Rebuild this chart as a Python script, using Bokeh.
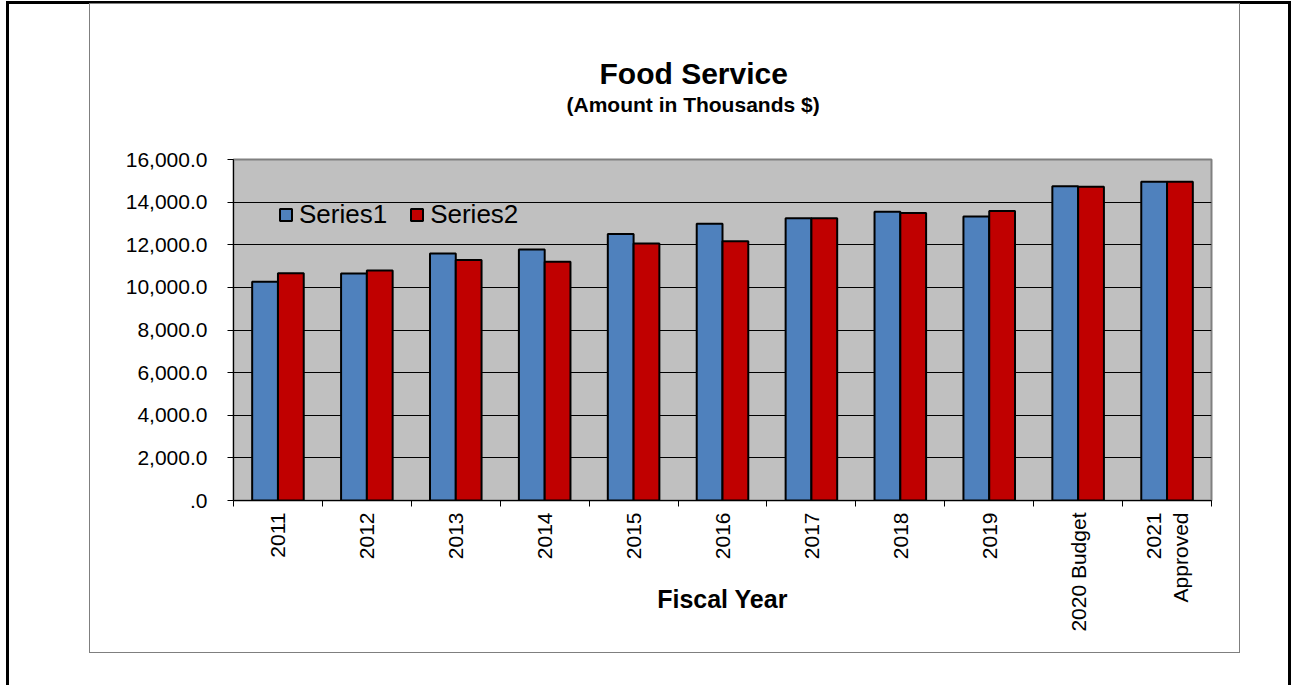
from math import pi
from bokeh.plotting import figure
from bokeh.models import (ColumnDataSource, FixedTicker, NumeralTickFormatter, Title,
                          Legend, LegendItem, Range1d)
from bokeh.transform import dodge
from bokeh.embed import file_html
from bokeh.resources import INLINE

# ---- data ----
categories = ["2011", "2012", "2013", "2014", "2015", "2016", "2017", "2018", "2019",
              "2020 Budget", "2021\nApproved"]
series1 = [10260, 10650, 11590, 11780, 12510, 12980, 13240, 13550, 13330, 14740, 14960]
series2 = [10660, 10790, 11290, 11200, 12060, 12170, 13240, 13490, 13580, 14720, 14960]
y_ticks = [0, 2000, 4000, 6000, 8000, 10000, 12000, 14000, 16000]

positions = list(range(1, len(categories) + 1))
source = ColumnDataSource(dict(x=positions, s1=series1, s2=series2))

FONT = "Liberation Sans"

p = figure(width=1149, height=648, output_backend="svg", toolbar_location=None,
           x_range=Range1d(0.5, len(categories) + 0.5), y_range=Range1d(0, 16000),
           min_border_left=143, min_border_right=28, min_border_top=155, min_border_bottom=152,
           background_fill_color="#C0C0C0", border_fill_color="white",
           margin=(4, 0, 0, 90))
# chart box (gray) and outer page frame (black) drawn with CSS around the figure
p.styles = {
    "outline": "1.5px solid #7f7f7f",
    "box-shadow": "-16px 65px 0 65px white, -16px 65px 0 68px black",
}
p.outline_line_color = "#808080"
p.outline_line_width = 2

r1 = p.vbar(x=dodge("x", -0.145, range=p.x_range), top="s1", width=0.29, source=source,
            fill_color="#4F81BD", line_color="black", line_width=2)
r2 = p.vbar(x=dodge("x", 0.145, range=p.x_range), top="s2", width=0.29, source=source,
            fill_color="#C00000", line_color="black", line_width=2)

# grid
p.xgrid.visible = False
p.ygrid.ticker = FixedTicker(ticks=y_ticks)
p.ygrid.grid_line_color = "black"
p.ygrid.grid_line_width = 1

# x axis
xa = p.xaxis[0]
xa.ticker = FixedTicker(ticks=positions, minor_ticks=[i + 0.5 for i in range(len(categories) + 1)])
xa.major_label_overrides = {pos: cat for pos, cat in zip(positions, categories)}
xa.major_tick_out = 0
xa.major_tick_in = 0
xa.minor_tick_out = 6
xa.minor_tick_in = 0
xa.minor_tick_line_color = "black"
xa.axis_line_color = "black"
xa.major_label_orientation = pi / 2
xa.major_label_standoff = 6
xa.major_label_text_font = FONT
xa.major_label_text_font_size = "21px"
xa.major_label_text_color = "black"
xa.axis_label = "Fiscal Year"
xa.axis_label_text_font = FONT
xa.axis_label_text_font_size = "25px"
xa.axis_label_text_font_style = "bold"
xa.axis_label_text_color = "black"
xa.axis_label_standoff = -50

# y axis
ya = p.yaxis[0]
ya.ticker = FixedTicker(ticks=y_ticks)
ya.formatter = NumeralTickFormatter(format="0,0.0")
ya.major_label_overrides = {0: ".0"}
ya.major_tick_out = 6
ya.major_tick_in = 0
ya.minor_tick_out = 0
ya.minor_tick_in = 0
ya.axis_line_color = "black"
ya.major_tick_line_color = "black"
ya.major_label_standoff = 20
ya.major_label_text_font = FONT
ya.major_label_text_font_size = "21px"
ya.major_label_text_color = "black"

# legend
legend = Legend(items=[LegendItem(label="Series1", renderers=[r1]),
                       LegendItem(label="Series2", renderers=[r2])],
                orientation="horizontal", location=(45, 270),
                background_fill_alpha=0, border_line_alpha=0,
                label_text_font=FONT, label_text_font_size="26px", label_text_color="black",
                glyph_width=15, glyph_height=15, spacing=22, padding=0, margin=0,
                label_standoff=6)
p.add_layout(legend)

# titles: spacer (closest to frame), subtitle, main title
p.title.text = ""
p.add_layout(Title(text=" ", text_font_size="10px", standoff=31), "above")
p.add_layout(Title(text="(Amount in Thousands $)", text_font=FONT, text_font_size="21px",
                   text_font_style="bold", text_color="black", align="left", offset=333,
                   standoff=0), "above")
p.add_layout(Title(text="Food Service", text_font=FONT, text_font_size="30px",
                   text_font_style="bold", text_color="black", align="left", offset=366,
                   standoff=1), "above")

open("out.html", "w").write(file_html(p, INLINE))
